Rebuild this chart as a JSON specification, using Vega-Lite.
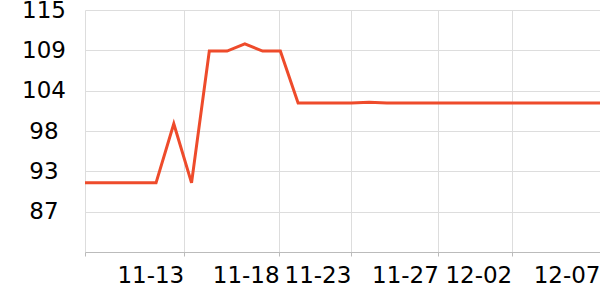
{
  "$schema": "https://vega.github.io/schema/vega-lite/v6.json",
  "autosize": "none",
  "width": 515,
  "height": 242,
  "padding": {"left": 85, "top": 10, "right": 0, "bottom": 48},
  "background": "white",
  "config": {
    "view": {"stroke": null},
    "font": "DejaVu Sans",
    "axis": {"labelFont": "DejaVu Sans", "labelFontSize": 23, "labelColor": "#000", "gridColor": "#dddddd", "gridWidth": 1, "domainColor": "#bbbbbb", "tickColor": "#bbbbbb", "title": null}
  },
  "data": {
    "values": [
      {"i": 0, "value": 91.0},
      {"i": 1, "value": 91.0},
      {"i": 2, "value": 91.0},
      {"i": 3, "value": 91.0},
      {"i": 4, "value": 91.0},
      {"i": 5, "value": 99.2},
      {"i": 6, "value": 91.0},
      {"i": 7, "value": 109.3},
      {"i": 8, "value": 109.3},
      {"i": 9, "value": 110.3},
      {"i": 10, "value": 109.3},
      {"i": 11, "value": 109.3},
      {"i": 12, "value": 102.1},
      {"i": 13, "value": 102.1},
      {"i": 14, "value": 102.1},
      {"i": 15, "value": 102.1},
      {"i": 16, "value": 102.2},
      {"i": 17, "value": 102.1},
      {"i": 18, "value": 102.1},
      {"i": 19, "value": 102.1},
      {"i": 20, "value": 102.1},
      {"i": 21, "value": 102.1},
      {"i": 22, "value": 102.1},
      {"i": 23, "value": 102.1},
      {"i": 24, "value": 102.1},
      {"i": 25, "value": 102.1},
      {"i": 26, "value": 102.1},
      {"i": 27, "value": 102.1},
      {"i": 28, "value": 102.1},
      {"i": 29, "value": 102.1}
    ]
  },
  "mark": {"type": "line", "color": "#ee4b2b", "strokeWidth": 3, "strokeJoin": "miter"},
  "encoding": {
    "x": {
      "field": "i",
      "type": "quantitative",
      "scale": {"domain": [0, 29], "nice": false, "zero": false},
      "axis": {
        "values": [0, 5.56, 10.93, 14.97, 19.9, 24.03, 29],
        "labelExpr": "datum.value == 0 ? '' : datum.value < 6 ? '11-13' : datum.value < 11 ? '11-18' : datum.value < 16 ? '11-23' : datum.value < 20 ? '11-27' : datum.value < 25 ? '12-02' : '12-07'",
        "labelAlign": "right",
        "labelBaseline": "top",
        "labelFlush": false,
        "labelOverlap": false,
        "labelBound": false,
        "tickSize": 4,
        "labelPadding": 8,
        "grid": true,
        "domain": true
      }
    },
    "y": {
      "field": "value",
      "type": "quantitative",
      "scale": {"domain": [81.4, 115], "nice": false, "zero": false},
      "axis": {
        "values": [115, 109.4, 103.8, 98.2, 92.6, 87],
        "format": ".0f",
        "labelAlign": "center",
        "labelBaseline": "middle",
        "labelOverlap": false,
        "ticks": false,
        "tickSize": 0,
        "labelPadding": 41.5,
        "domain": false,
        "grid": true
      }
    }
  }
}
